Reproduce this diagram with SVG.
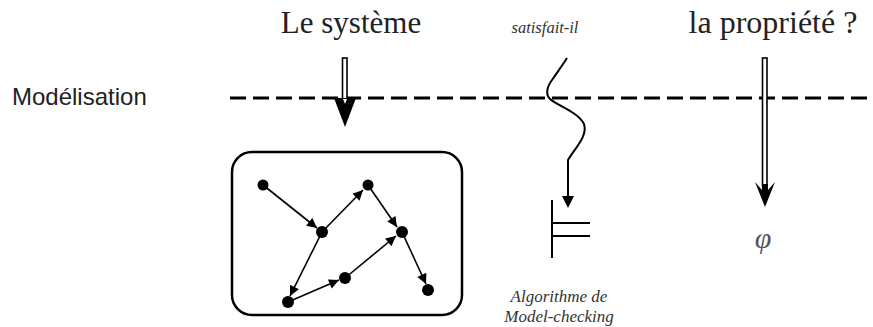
<svg xmlns="http://www.w3.org/2000/svg" width="873" height="327" viewBox="0 0 873 327">
<style>
.serif{font-family:"Liberation Serif","DejaVu Serif",serif;fill:#222}
.ital{font-family:"Liberation Serif","DejaVu Serif",serif;font-style:italic;fill:#333}
.sans{font-family:"Liberation Sans","DejaVu Sans",sans-serif;fill:#222}
.edge{stroke:#000;stroke-width:1.6;fill:none;marker-end:url(#ah)}
.dot{fill:#000}
</style>
<defs>
<marker id="ah" viewBox="0 0 10 10" refX="10" refY="5" markerWidth="11" markerHeight="10" markerUnits="userSpaceOnUse" orient="auto">
<path d="M0,0 L10,5 L0,10 z" fill="#000"/>
</marker>
</defs>
<rect width="873" height="327" fill="#fff"/>

<g id="labels">
<text class="serif" x="351" y="33" font-size="31" text-anchor="middle">Le système</text>
<text class="ital" x="545" y="33" font-size="16.5" text-anchor="middle">satisfait-il</text>
<text class="serif" x="773" y="33" font-size="32" text-anchor="middle">la propriété ?</text>
<text class="sans" x="12" y="105" font-size="24">Modélisation</text>
</g>

<g id="dashed-line">
<line x1="230" y1="98" x2="873" y2="98" stroke="#000" stroke-width="3" stroke-dasharray="16,7"/>
</g>

<g id="system-box">
<rect x="232" y="152" width="230" height="163" rx="20" ry="20" fill="none" stroke="#000" stroke-width="2.5"/>
</g>

<g id="connectors">
<g id="arrow-systeme">
<rect x="342.5" y="58" width="4.5" height="44" fill="#fff" stroke="#000" stroke-width="1.6"/>
<path d="M334,98 L356,98 L345,127 z" fill="#000"/>
<path d="M343,99 L347,99 L345,104 z" fill="#fff"/>
</g>
<g id="arrow-propriete">
<rect x="762.5" y="58" width="4.5" height="128" fill="#fff" stroke="#000" stroke-width="1.6"/>
<path d="M755,182 L762,190 L762,184 L768,184 L768,190 L775,182 L765,207 z" fill="#000"/>
</g>
<path d="M567,58 C562,66 556,74 552,80 C546,88 546,95 550,99 C558,106 578,112 584,124 C588,136 575,148 568,160 L568,200" fill="none" stroke="#000" stroke-width="2"/>
<path d="M562,196 L574,196 L568,208 z" fill="#000"/>
<g id="graph-edges">
<line class="edge" x1="263" y1="185" x2="317" y2="228"/>
<line class="edge" x1="322" y1="232" x2="363" y2="190"/>
<line class="edge" x1="368" y1="185" x2="397" y2="227"/>
<line class="edge" x1="322" y1="232" x2="290" y2="296"/>
<line class="edge" x1="288" y1="302" x2="339" y2="280"/>
<line class="edge" x1="345" y1="278" x2="396" y2="236"/>
<line class="edge" x1="402" y1="232" x2="426" y2="284"/>
</g>
</g>

<g id="graph-nodes">
<circle id="n1" class="dot" cx="263" cy="185" r="5.5"/>
<circle id="n2" class="dot" cx="322" cy="232" r="6"/>
<circle id="n3" class="dot" cx="368" cy="185" r="5.5"/>
<circle id="n4" class="dot" cx="402" cy="232" r="6"/>
<circle id="n5" class="dot" cx="345" cy="278" r="6"/>
<circle id="n6" class="dot" cx="288" cy="302" r="6"/>
<circle id="n7" class="dot" cx="428" cy="290" r="6"/>
</g>

<g id="turnstile">
<line x1="552" y1="200" x2="552" y2="258" stroke="#000" stroke-width="2"/>
<line x1="552" y1="223" x2="590" y2="223" stroke="#000" stroke-width="2"/>
<line x1="552" y1="236" x2="590" y2="236" stroke="#000" stroke-width="2"/>
<text class="ital" x="559" y="302" font-size="17" text-anchor="middle">Algorithme de</text>
<text class="ital" x="559" y="322" font-size="17" text-anchor="middle">Model-checking</text>
</g>

<g id="phi">
<text class="serif" x="763" y="248" font-size="30" font-style="italic" text-anchor="middle" style="fill:#555">φ</text>
</g>
</svg>
